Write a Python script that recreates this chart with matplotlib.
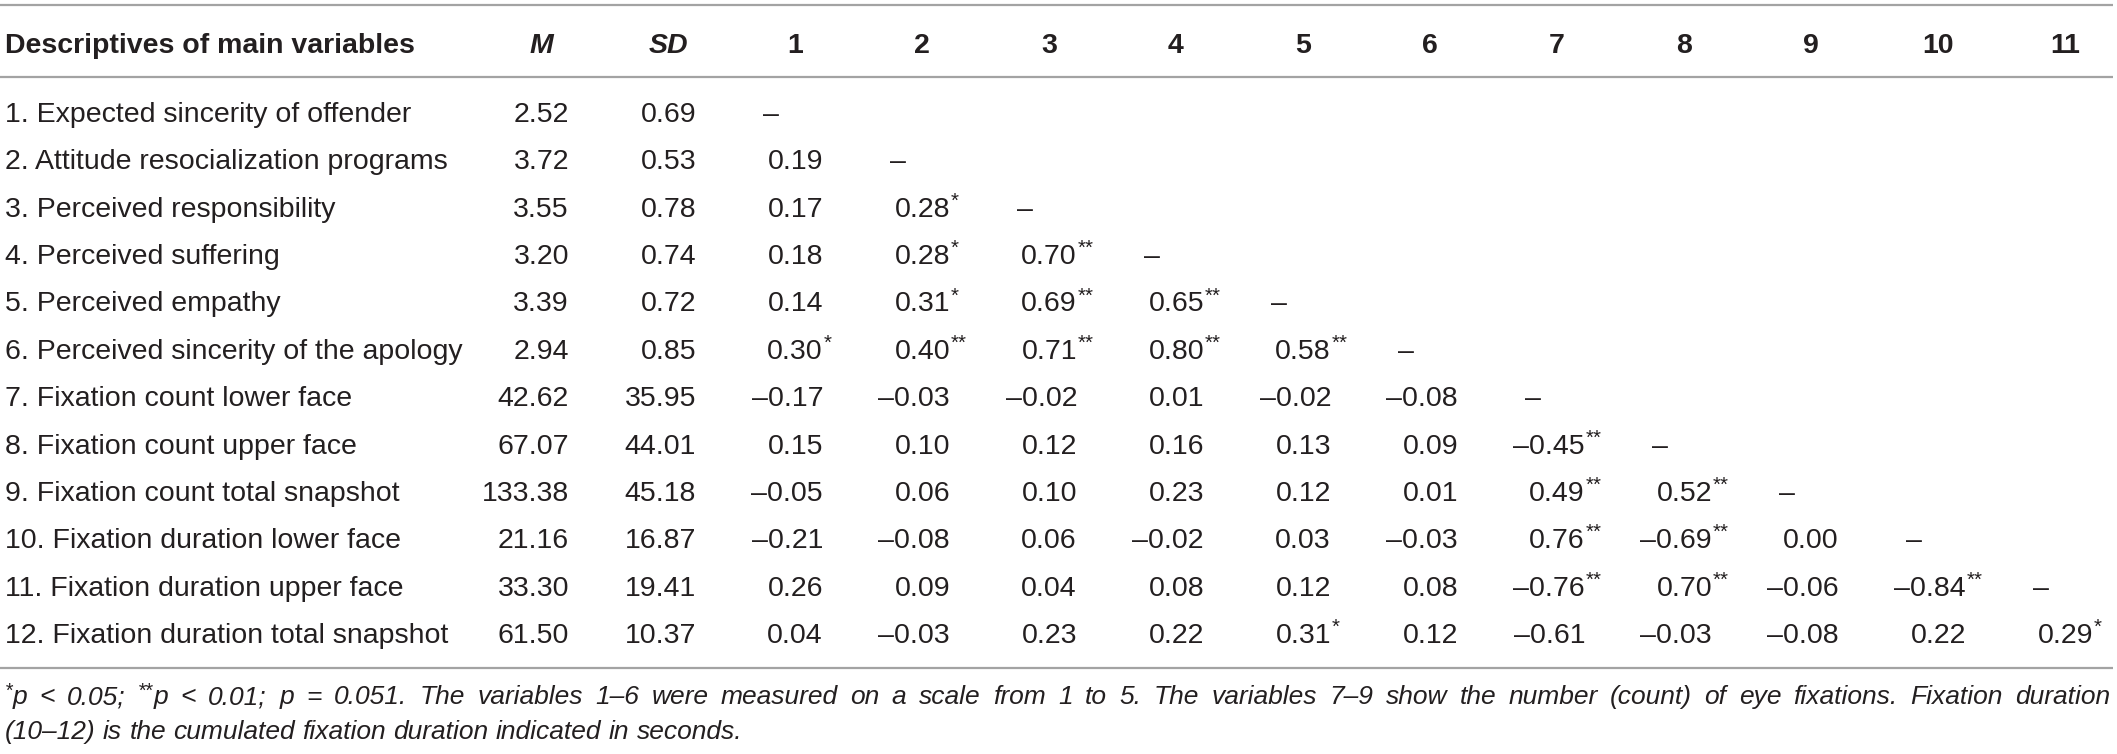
import matplotlib
matplotlib.use('Agg')
import matplotlib.pyplot as plt

# ---------------- data ----------------
row_labels = [
    "1. Expected sincerity of offender",
    "2. Attitude resocialization programs",
    "3. Perceived responsibility",
    "4. Perceived suffering",
    "5. Perceived empathy",
    "6. Perceived sincerity of the apology",
    "7. Fixation count lower face",
    "8. Fixation count upper face",
    "9. Fixation count total snapshot",
    "10. Fixation duration lower face",
    "11. Fixation duration upper face",
    "12. Fixation duration total snapshot",
]
means = [2.52, 3.72, 3.55, 3.20, 3.39, 2.94, 42.62, 67.07, 133.38, 21.16, 33.30, 61.50]
sds = [0.69, 0.53, 0.78, 0.74, 0.72, 0.85, 35.95, 44.01, 45.18, 16.87, 19.41, 10.37]
corr = [
    [],
    [0.19],
    [0.17, 0.28],
    [0.18, 0.28, 0.70],
    [0.14, 0.31, 0.69, 0.65],
    [0.30, 0.40, 0.71, 0.80, 0.58],
    [-0.17, -0.03, -0.02, 0.01, -0.02, -0.08],
    [0.15, 0.10, 0.12, 0.16, 0.13, 0.09, -0.45],
    [-0.05, 0.06, 0.10, 0.23, 0.12, 0.01, 0.49, 0.52],
    [-0.21, -0.08, 0.06, -0.02, 0.03, -0.03, 0.76, -0.69, 0.00],
    [0.26, 0.09, 0.04, 0.08, 0.12, 0.08, -0.76, 0.70, -0.06, -0.84],
    [0.04, -0.03, 0.23, 0.22, 0.31, 0.12, -0.61, -0.03, -0.08, 0.22, 0.29],
]
sig = [
    [],
    [""],
    ["", "*"],
    ["", "*", "**"],
    ["", "*", "**", "**"],
    ["*", "**", "**", "**", "**"],
    ["", "", "", "", "", ""],
    ["", "", "", "", "", "", "**"],
    ["", "", "", "", "", "", "**", "**"],
    ["", "", "", "", "", "", "**", "**", ""],
    ["", "", "", "", "", "", "**", "**", "", "**"],
    ["", "", "", "", "*", "", "", "", "", "", "*"],
]
title_header = "Descriptives of main variables"
stat_headers = ["M", "SD"]
num_headers = ["1", "2", "3", "4", "5", "6", "7", "8", "9", "10", "11"]
note_line1 = ("*p < 0.05; **p < 0.01; p = 0.051. The variables 1\u20136 were measured on a scale "
              "from 1 to 5. The variables 7\u20139 show the number (count) of eye fixations. "
              "Fixation duration")
note_line2 = "(10\u201312) is the cumulated fixation duration indicated in seconds."

# ---------------- fonts ----------------
SANS = ['Liberation Sans', 'DejaVu Sans']
TXT = '#231f20'
RULE = '#a3a3a3'

W, H = 2117, 754
fig = plt.figure(figsize=(W / 100, H / 100), dpi=100)
ax = fig.add_axes([0, 0, 1, 1])
ax.set_xlim(0, W)
ax.set_ylim(H, 0)
ax.axis('off')

FS = 20.5
left_x = 5
col_right = [569 + 127.0 * k for k in range(13)]
num_half = 28
header_base = 53
row_base0 = 122
row_step = 47.36


def fmt(v):
    return f"{v:.2f}".replace('-', '\u2013')


# rules
for y in (5, 77, 668):
    ax.plot([0, 2113], [y, y], color=RULE, lw=1.6, solid_capstyle='butt')

# header
ax.text(left_x, header_base, title_header, family=SANS, weight='bold', fontsize=FS,
        color=TXT, ha='left', va='baseline')
for k, h in enumerate(stat_headers):
    ax.text(col_right[k] - num_half, header_base, h, family=SANS, weight='bold', style='italic',
            fontsize=FS, color=TXT, ha='center', va='baseline')
for k, h in enumerate(num_headers):
    ax.text(col_right[k + 2] - num_half, header_base, h, family=SANS, weight='bold',
            fontsize=FS, color=TXT, ha='center', va='baseline')

# body
for i, lab in enumerate(row_labels):
    yb = row_base0 + row_step * i
    ax.text(left_x, yb, lab, family=SANS, fontsize=FS, color=TXT, ha='left', va='baseline')
    ax.text(col_right[0], yb, f"{means[i]:.2f}", family=SANS, fontsize=FS, color=TXT,
            ha='right', va='baseline')
    ax.text(col_right[1], yb, f"{sds[i]:.2f}", family=SANS, fontsize=FS, color=TXT,
            ha='right', va='baseline')
    for j, v in enumerate(corr[i]):
        xr = col_right[j + 2]
        ax.text(xr, yb, fmt(v), family=SANS, fontsize=FS, color=TXT, ha='right', va='baseline')
        if sig[i][j]:
            ax.text(xr + 1, yb - 10, sig[i][j], family=SANS, fontsize=FS * 0.72, color=TXT,
                    ha='left', va='baseline')
    if i < len(num_headers):
        ax.text(col_right[i + 2] - 60, yb, "\u2013", family=SANS, fontsize=FS, color=TXT,
                ha='left', va='baseline')

# footnote (justified first line)
NFS = 19.0
renderer = fig.canvas.get_renderer()


def draw_word(x, y, word, measure_only=False):
    segs = []
    stars = ''
    w = word
    while w.startswith('*'):
        stars += '*'
        w = w[1:]
    if stars:
        segs.append((stars, NFS * 0.75, -7))
    segs.append((w, NFS, 0))
    cx = x
    for s, fs, dy in segs:
        t = ax.text(cx, y + dy, s, family=SANS, style='italic', fontsize=fs, color=TXT,
                    ha='left', va='baseline')
        bb = t.get_window_extent(renderer=renderer)
        if measure_only:
            t.remove()
        cx += bb.width
    return cx - x


words = note_line1.split(' ')
widths = [draw_word(0, -100, wd, measure_only=True) for wd in words]
line_l, line_r = 5, 2110
gap = (line_r - line_l - sum(widths)) / (len(words) - 1)
x = line_l
for wd, wdt in zip(words, widths):
    draw_word(x, 704, wd)
    x += wdt + gap

words2 = note_line2.split(' ')
sp = draw_word(0, -100, 'a a', measure_only=True) - 2 * draw_word(0, -100, 'a', measure_only=True)
x = line_l
for wd in words2:
    x += draw_word(x, 739, wd) + sp

fig.savefig('out.png', dpi=100, facecolor='white')
